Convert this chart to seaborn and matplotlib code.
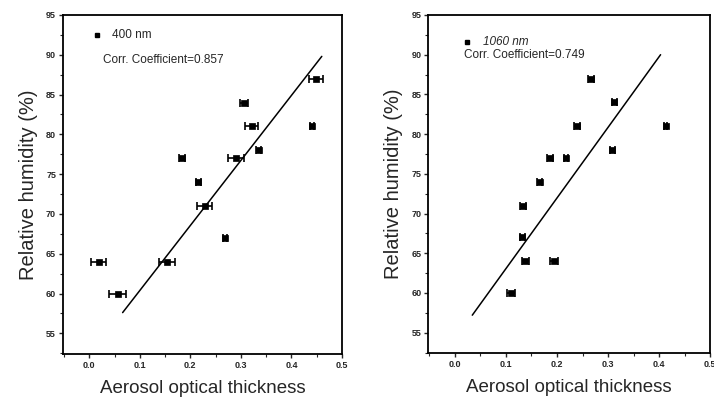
import numpy as np
import pandas as pd
import matplotlib
matplotlib.use("Agg")
import matplotlib.pyplot as plt
import seaborn as sns
from matplotlib.ticker import MultipleLocator

# Dados (umidade relativa vs espessura optica do aerossol)
rh = [87, 84, 81, 81, 78, 77, 77, 74, 71, 67, 64, 64, 60]

aot_400 = [0.449, 0.307, 0.321, 0.440, 0.335, 0.291, 0.184, 0.216, 0.228, 0.269, 0.019, 0.154, 0.056]
err_400 = [0.014, 0.008, 0.012, 0.004, 0.005, 0.016, 0.006, 0.005, 0.015, 0.004, 0.015, 0.016, 0.017]
fit_400_x = [0.066, 0.46]
fit_400_y = [57.6, 89.8]

aot_1060 = [0.266, 0.312, 0.413, 0.239, 0.308, 0.187, 0.218, 0.166, 0.134, 0.132, 0.138, 0.194, 0.110]
err_1060 = [0.006, 0.005, 0.003, 0.006, 0.005, 0.006, 0.004, 0.005, 0.006, 0.005, 0.007, 0.007, 0.007]
fit_1060_x = [0.034, 0.403]
fit_1060_y = [57.2, 90.0]

labels = ["400 nm", "1060 nm"]
corr = ["0.857", "0.749"]

sns.set_style("ticks")
plt.rcParams['font.family'] = ['Liberation Sans', 'DejaVu Sans']

fig = plt.figure(figsize=(7.14, 4.04), dpi=100)
ax1 = fig.add_axes([0.0882, 0.1238, 0.3908, 0.8391])
ax2 = fig.add_axes([0.600, 0.1255, 0.3945, 0.8374])

paineis = [
    (ax1, aot_400, err_400, fit_400_x, fit_400_y, labels[0], corr[0], 'normal',
     (0.122, 0.941), (0.174, 0.941), (0.145, 0.867)),
    (ax2, aot_1060, err_1060, fit_1060_x, fit_1060_y, labels[1], corr[1], 'italic',
     (0.136, 0.920), (0.195, 0.920), (0.127, 0.882)),
]

for ax, x, err, fx, fy, lab, cc, estilo, mpos, lpos, cpos in paineis:
    df = pd.DataFrame({'aot': x, 'rh': rh, 'err': err})
    ax.errorbar(df['aot'], df['rh'], xerr=df['err'], fmt='none', ecolor='black',
                elinewidth=1.2, capsize=3, capthick=1.2, zorder=2)
    sns.scatterplot(data=df, x='aot', y='rh', ax=ax, color='black', marker='s',
                    s=18, edgecolor='black', linewidth=0.5, zorder=3, legend=False)
    sns.lineplot(x=fx, y=fy, ax=ax, color='black', linewidth=1.1, zorder=2)

    ax.set_xlim(-0.052, 0.5)
    ax.set_ylim(52.4, 95)
    ax.xaxis.set_major_locator(MultipleLocator(0.1))
    ax.xaxis.set_minor_locator(MultipleLocator(0.05))
    ax.yaxis.set_major_locator(MultipleLocator(5))
    ax.yaxis.set_minor_locator(MultipleLocator(2.5))
    ax.tick_params(which='major', direction='out', length=3, width=1.0,
                   labelsize=6.5, pad=2)
    ax.tick_params(which='minor', direction='out', length=2, width=0.8)
    for t in ax.get_xticklabels() + ax.get_yticklabels():
        t.set_fontweight('bold')
    for sp in ax.spines.values():
        sp.set_linewidth(1.3)
        sp.set_color('black')

    ax.set_xlabel("Aerosol optical thickness", fontsize=13.5, labelpad=7)
    ax.set_ylabel("Relative humidity (%)", fontsize=14.5, labelpad=6)

    # legenda manual
    ax.plot([mpos[0]], [mpos[1]], marker='s', color='black', markersize=3,
            transform=ax.transAxes, linestyle='none')
    ax.text(lpos[0], lpos[1], lab, transform=ax.transAxes, fontsize=8.5,
            style=estilo, va='center', ha='left')
    ax.text(cpos[0], cpos[1], "Corr. Coefficient=" + cc, transform=ax.transAxes,
            fontsize=8.5, va='center', ha='left')

plt.savefig("out.png", dpi=100)
